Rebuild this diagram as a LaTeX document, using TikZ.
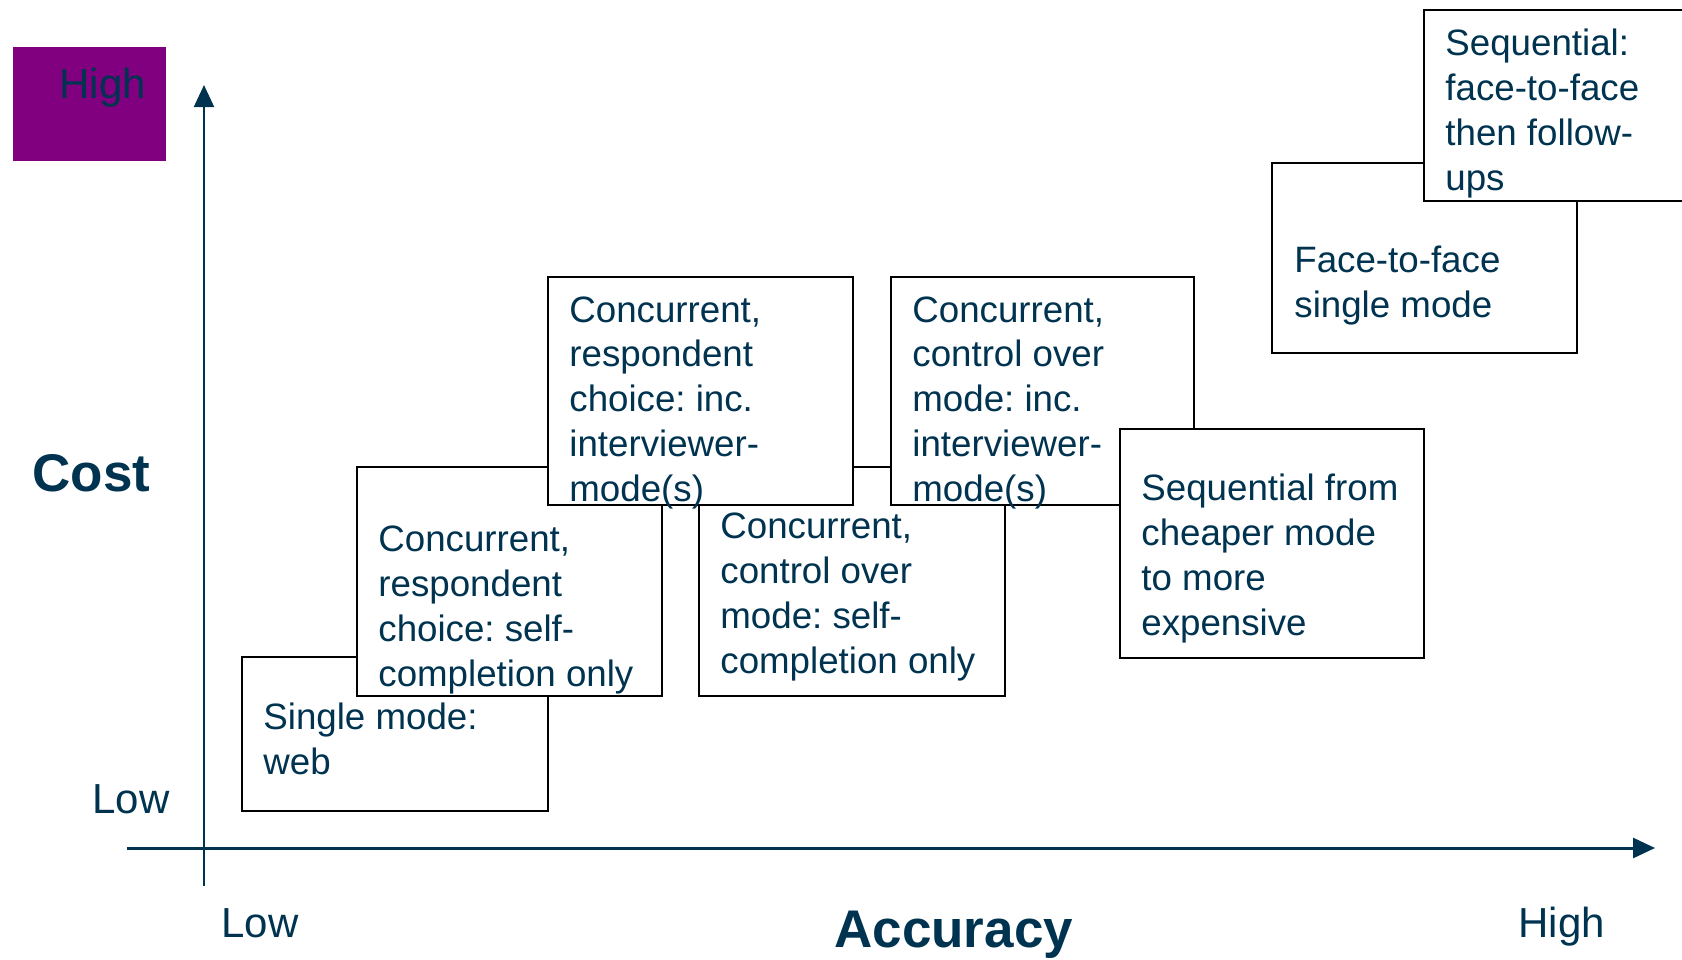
\documentclass[tikz,border=0pt]{standalone}
\usepackage{fontspec}
\setmainfont{Liberation Sans}
\usetikzlibrary{arrows.meta,calc}
\definecolor{blunotte}{HTML}{003350}
\definecolor{viola}{HTML}{800080}
\frenchspacing

\begin{document}
\begin{tikzpicture}[x=0.5pt,y=-0.5pt,
    riquadro/.style={draw=black,line width=1pt,fill=white,anchor=north west,inner sep=0pt,minimum width=152.5pt},
    testo/.style={anchor=base west,align=left,inner sep=0pt,text=blunotte,font=\fontsize{18.35pt}{22.35pt}\selectfont},
    etichetta/.style={anchor=base west,inner sep=0pt,text=blunotte,font=\fontsize{21pt}{25pt}\selectfont},
    titolo/.style={anchor=base west,inner sep=0pt,text=blunotte,font=\fontsize{26.5pt}{30pt}\selectfont\bfseries},
    asse/.style={blunotte,-{Triangle[length=11pt,width=10pt]}}]
        \useasboundingbox (0,0) rectangle (1682,959); % dimensioni della figura
        \clip (0,0) rectangle (1682,959);
        % assi
        \coordinate (ybasso) at (204,886);
        \coordinate (yalto) at (204,85);
        \coordinate (xsinistra) at (127,848);
        \coordinate (xdestra) at (1655,848);
        \draw[asse,line width=1pt] (ybasso) -- (yalto); % asse dei costi
        \draw[asse,line width=1.5pt] (xsinistra) -- (xdestra); % asse della precisione
        % etichette degli assi
        \node[fill=viola,anchor=north west,minimum width=76.5pt,minimum height=57pt,inner sep=0pt] (quadviola) at (13,47) {};
        \node[etichetta] (altoy) at (59,98) {High};
        \node[titolo] (costo) at (32,491) {Cost};
        \node[etichetta] (bassoy) at (92,813) {Low};
        \node[etichetta] (bassox) at (221,937) {Low};
        \node[titolo] (precisione) at (834,947) {Accuracy};
        \node[etichetta] (altox) at (1518,937) {High};
        % riquadri, dal basso verso l'alto (base = ultima riga del testo)
        \node[riquadro,minimum width=153pt,minimum height=77pt] (web) at (241,656) {};
        \node[testo] (webtxt) at ($(web.north west)+(22,118)$) {Single mode:\\web};
        \node[riquadro,minimum height=114.5pt] (sceltaauto) at (356,466) {};
        \node[testo] (sceltaautotxt) at ($(sceltaauto.north west)+(22,220)$) {Concurrent,\\respondent\\choice: self-\\completion only};
        \node[riquadro,minimum width=153pt,minimum height=114.5pt] (controlloauto) at (698,466) {};
        \node[testo] (controlloautotxt) at ($(controlloauto.north west)+(22,207)$) {Concurrent,\\control over\\mode: self-\\completion only};
        \node[riquadro,minimum height=114pt] (sceltaint) at (547,276) {};
        \node[testo] (sceltainttxt) at ($(sceltaint.north west)+(22,225)$) {Concurrent,\\respondent\\choice: inc.\\interviewer-\\mode(s)};
        \node[riquadro,minimum width=151.5pt,minimum height=114pt] (controlloint) at (890,276) {};
        \node[testo] (controllointtxt) at ($(controlloint.north west)+(22,225)$) {Concurrent,\\control over\\mode: inc.\\interviewer-\\mode(s)};
        \node[riquadro,minimum width=152pt,minimum height=114.5pt] (sequenza) at (1119,428) {};
        \node[testo] (sequenzatxt) at ($(sequenza.north west)+(22,207)$) {Sequential from\\cheaper mode\\to more\\expensive};
        \node[riquadro,minimum height=95pt] (faccia) at (1271,162) {};
        \node[testo] (facciatxt) at ($(faccia.north west)+(23,155)$) {Face-to-face\\single mode};
        \node[riquadro,minimum height=95.5pt] (seqfaccia) at (1423,9) {};
        \node[testo] (seqfacciatxt) at ($(seqfaccia.north west)+(22,181)$) {Sequential:\\face-to-face\\then follow-\\ups};
    \end{tikzpicture}
\end{document}
